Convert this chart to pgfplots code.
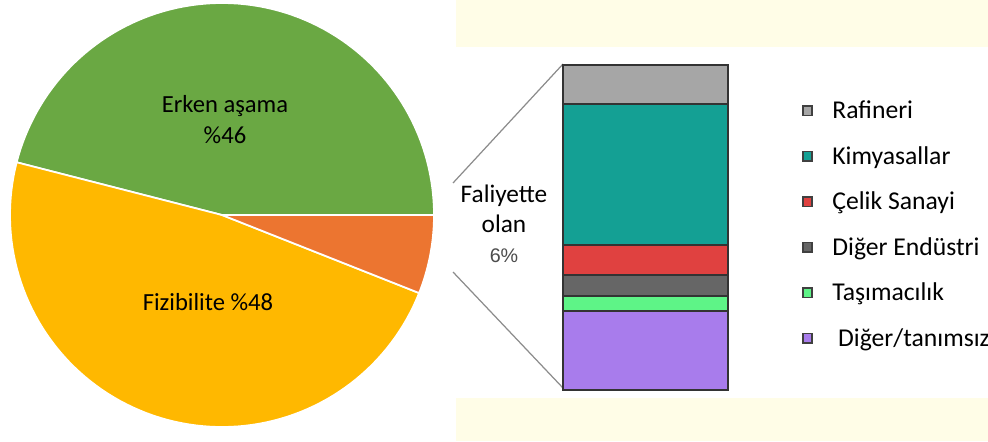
\documentclass[border=0pt]{standalone}
\usepackage{pgfplots}
\pgfplotsset{compat=1.18}
\usepackage{fontspec}
\setmainfont{Carlito}
\newfontfamily\arialf{Liberation Sans}
\definecolor{cgreen}{HTML}{6AA843}
\definecolor{cyellow}{HTML}{FFB800}
\definecolor{corange}{HTML}{EC7530}
\definecolor{cream}{HTML}{FFFDE7}
\definecolor{craf}{HTML}{A6A6A6}
\definecolor{ckim}{HTML}{14A094}
\definecolor{ccel}{HTML}{E04140}
\definecolor{cdig}{HTML}{666666}
\definecolor{ctas}{HTML}{5EF487}
\definecolor{cdt}{HTML}{A87CEC}
\begin{document}
\begin{tikzpicture}
% pie shares (percent)
\pgfmathsetmacro{\pA}{46}% Erken asama
\pgfmathsetmacro{\pB}{48}% Fizibilite
\pgfmathsetmacro{\pC}{6}% Faliyette olan
\pgfmathsetmacro{\aA}{3.6*\pA}
\pgfmathsetmacro{\aB}{3.6*(\pA+\pB)}
\begin{axis}[name=main, at={(0,0)}, anchor=south west, scale only axis,
  width=98.8mm, height=44.1mm, xmin=0, xmax=988, ymin=0, ymax=441,
  hide axis, clip=false]
  % cream boxes
  \addplot[fill=cream, draw=none] coordinates {(456,441) (988,441) (988,393.5) (456,393.5)} -- cycle;
  \addplot[fill=cream, draw=none] coordinates {(456,0) (988,0) (988,43) (456,43)} -- cycle;
  % pie
  \addplot[fill=cgreen, draw=white, line width=0.5pt, domain=0:\aA, samples=90, variable=\t]
    ({222+212*cos(\t)},{226+212*sin(\t)}) -- (222,226) -- cycle;
  \addplot[fill=cyellow, draw=white, line width=0.5pt, domain=\aA:\aB, samples=90, variable=\t]
    ({222+212*cos(\t)},{226+212*sin(\t)}) -- (222,226) -- cycle;
  \addplot[fill=corange, draw=white, line width=0.5pt, domain=\aB:360, samples=30, variable=\t]
    ({222+212*cos(\t)},{226+212*sin(\t)}) -- (222,226) -- cycle;
  % connector lines
  \addplot[gray!90, line width=0.35pt] coordinates {(453,258) (563,377)};
  \addplot[gray!90, line width=0.35pt] coordinates {(453,169) (563,53)};
  % labels
  \node[anchor=base, font=\fontsize{7pt}{8pt}\selectfont] at (axis cs:225,329) {Erken aşama};
  \node[anchor=base, font=\fontsize{7pt}{8pt}\selectfont] at (axis cs:225,298) {\%46};
  \node[anchor=base, font=\fontsize{7pt}{8pt}\selectfont] at (axis cs:208,131) {Fizibilite \%48};
  \node[anchor=base, font=\fontsize{7.2pt}{8pt}\selectfont] at (axis cs:504,239) {Faliyette};
  \node[anchor=base, font=\fontsize{7.2pt}{8pt}\selectfont] at (axis cs:504,209) {olan};
  \node[anchor=base, font=\arialf\fontsize{5.6pt}{7pt}\selectfont, text=black!70] at (axis cs:504,179) {6\%};
\end{axis}
\begin{axis}[at={(56.3mm,5.1mm)}, anchor=south west, scale only axis,
  width=16.5mm, height=32.5mm, xmin=0, xmax=1, ymin=0, ymax=100,
  hide axis, clip=false, ybar stacked, bar width=1,
  every axis plot/.append style={draw=black!80, line width=0.45pt},
  reverse legend, legend cell align=left,
  legend image code/.code={\draw[#1, draw=black!75, line width=0.45pt] (0pt,-0.6pt) rectangle (2.7pt,2.1pt);},
  legend style={at={(1.38,0.908)}, anchor=north west, draw=none, fill=none,
    font=\fontsize{7.3pt}{8pt}\selectfont, row sep=6.95pt, column sep=0pt,
    nodes={inner sep=0pt, text height=4.6pt, text depth=1.4pt},
    /tikz/every odd column/.style={column sep=5.5pt}}]
  \addplot[fill=cdt] coordinates {(0.5,24.3)}; \addlegendentry{\ Diğer/tanımsız}
  \addplot[fill=ctas] coordinates {(0.5,4.6)}; \addlegendentry{Taşımacılık}
  \addplot[fill=cdig] coordinates {(0.5,6.5)}; \addlegendentry{Diğer Endüstri}
  \addplot[fill=ccel] coordinates {(0.5,9.2)}; \addlegendentry{Çelik Sanayi}
  \addplot[fill=ckim] coordinates {(0.5,43.4)}; \addlegendentry{Kimyasallar}
  \addplot[fill=craf] coordinates {(0.5,12.0)}; \addlegendentry{Rafineri}
\end{axis}
\pgfresetboundingbox
\path[use as bounding box] (0,0) rectangle (98.8mm,44.1mm);
\end{tikzpicture}
\end{document}
